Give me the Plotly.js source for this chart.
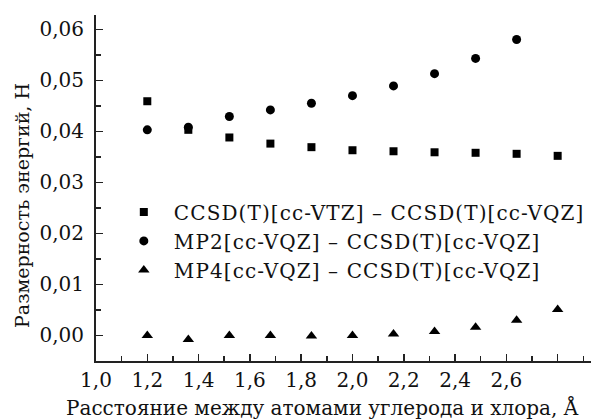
<!DOCTYPE html>
<html>
<head>
<meta charset="utf-8">
<script src="https://cdn.plot.ly/plotly-3.0.1.min.js"></script>
<style>html,body{margin:0;padding:0;background:#fff;}#chart{width:591px;height:420px;}
.legendtext{letter-spacing:1.1px;}</style>
</head>
<body>
<div id="chart"></div>
<script>
const distances = [1.2, 1.36, 1.52, 1.68, 1.84, 2.0, 2.16, 2.32, 2.48, 2.64, 2.8];
const ccsdDiff = [0.0459, 0.0403, 0.0388, 0.0376, 0.0369, 0.0363, 0.0361, 0.0359, 0.0358, 0.0356, 0.0352];
const mp2Distances = [1.2, 1.36, 1.52, 1.68, 1.84, 2.0, 2.16, 2.32, 2.48, 2.64];
const mp2Diff = [0.0403, 0.0408, 0.0429, 0.0442, 0.0455, 0.0470, 0.0489, 0.0513, 0.0543, 0.0580];
const mp4Diff = [0.0000, -0.0008, 0.0000, 0.0000, -0.0001, 0.0000, 0.0003, 0.0008, 0.0016, 0.0030, 0.0051];
const seriesNames = [
  "CCSD(T)[cc-VTZ] – CCSD(T)[cc-VQZ]",
  "MP2[cc-VQZ] – CCSD(T)[cc-VQZ]",
  "MP4[cc-VQZ] – CCSD(T)[cc-VQZ]"
];
const xTitle = "Расстояние между атомами углерода и хлора, Å";
const yTitle = "Размерность энергий, Н";
const xTickVals = [1.0, 1.2, 1.4, 1.6, 1.8, 2.0, 2.2, 2.4, 2.6, 2.8];
const xTickText = ["1,0", "1,2", "1,4", "1,6", "1,8", "2,0", "2,2", "2,4", "2,6", ""];
const yTickVals = [0.00, 0.01, 0.02, 0.03, 0.04, 0.05, 0.06];
const yTickText = ["0,00", "0,01", "0,02", "0,03", "0,04", "0,05", "0,06"];

const font = "'DejaVu Serif', 'Liberation Serif', serif";
const fs = 20;
const traces = [
  {x: distances, y: ccsdDiff, name: seriesNames[0], mode: "markers", type: "scatter",
   marker: {symbol: "square", size: 8, color: "#000"}},
  {x: mp2Distances, y: mp2Diff, name: seriesNames[1], mode: "markers", type: "scatter",
   marker: {symbol: "circle", size: 9, color: "#000"}},
  {x: distances, y: mp4Diff, name: seriesNames[2], mode: "markers", type: "scatter",
   marker: {symbol: "triangle-up", size: 10, color: "#000"}}
];
const layout = {
  width: 591, height: 420,
  margin: {l: 96, r: 0, t: 15, b: 59},
  paper_bgcolor: "#fff", plot_bgcolor: "#fff",
  font: {family: font, size: fs, color: "#111"},
  showlegend: true,
  legend: {x: 0.036, y: 0.347, xanchor: "left", yanchor: "middle", bgcolor: "rgba(0,0,0,0)",
           itemwidth: 50, font: {family: font, size: fs, color: "#111"}},
  xaxis: {
    range: [1.0, 2.93], showgrid: false, zeroline: false,
    showline: true, linecolor: "#222", linewidth: 2,
    ticks: "inside", ticklen: 7, tickwidth: 1.5, tickcolor: "#222",
    tickmode: "array", tickvals: xTickVals, ticktext: xTickText,
    minor: {ticks: "inside", ticklen: 5, tickwidth: 1.5, tickcolor: "#222", dtick: 0.1, tick0: 1.0, showgrid: false},
    tickfont: {family: font, size: fs},
    ticklabelstandoff: 0
  },
  yaxis: {
    range: [-0.005, 0.0628], showgrid: false, zeroline: false,
    showline: true, linecolor: "#222", linewidth: 2,
    ticks: "inside", ticklen: 7, tickwidth: 1.5, tickcolor: "#222",
    tickmode: "array", tickvals: yTickVals, ticktext: yTickText,
    minor: {ticks: "inside", ticklen: 5, tickwidth: 1.5, tickcolor: "#222", dtick: 0.005, tick0: 0, showgrid: false},
    tickfont: {family: font, size: fs},
    ticklabelstandoff: 6
  },
  annotations: [
    {text: xTitle, xref: "paper", yref: "paper", x: 0.457, y: -0.133, xanchor: "center", yanchor: "middle",
     showarrow: false, font: {family: font, size: fs, color: "#111"}},
    {text: yTitle, xref: "paper", yref: "paper", x: -0.1495, y: 0.451, xanchor: "center", yanchor: "middle",
     textangle: -90, showarrow: false, font: {family: font, size: 19, color: "#111"}}
  ]
};
Plotly.newPlot("chart", traces, layout, {staticPlot: true});
</script>
</body>
</html>
